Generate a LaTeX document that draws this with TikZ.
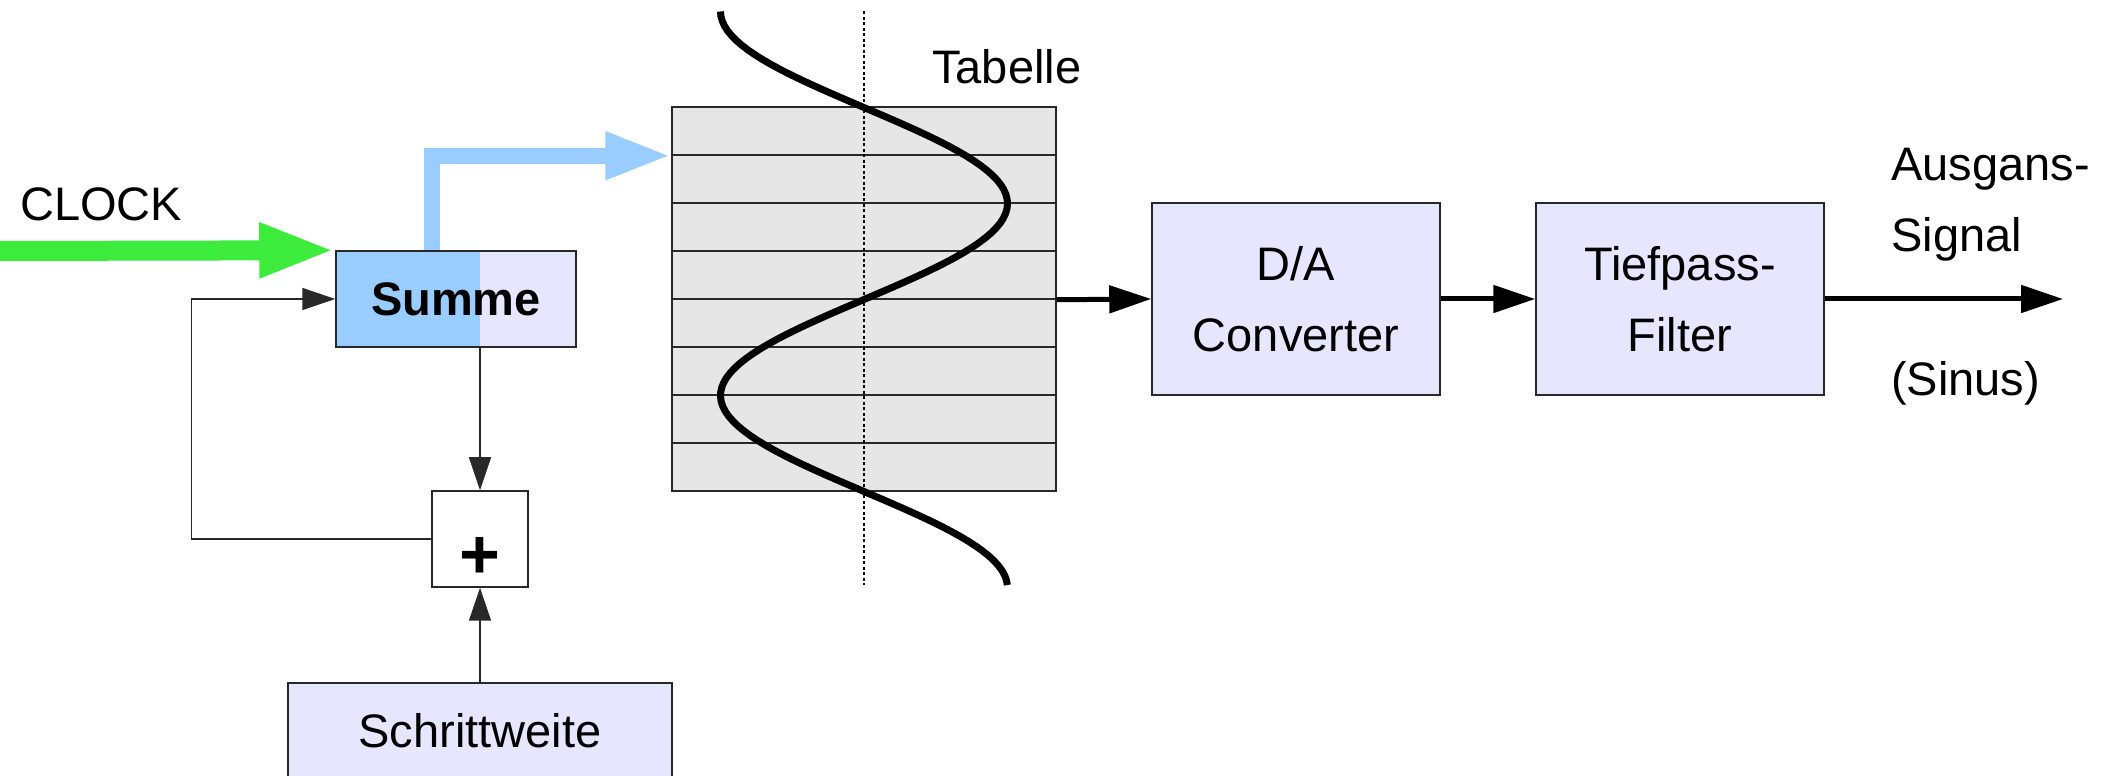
\documentclass[tikz,border=0pt]{standalone}
\usepackage{fontspec}
\setmainfont{Liberation Sans}
\usepackage{tikz}
\usetikzlibrary{arrows.meta}
\definecolor{boxfill}{RGB}{230,230,255}
\definecolor{sumblue}{RGB}{153,204,255}
\definecolor{clockgreen}{RGB}{61,235,61}
\definecolor{tablegray}{RGB}{230,230,230}
\definecolor{edgegray}{RGB}{40,40,40}

\begin{document}
\begin{tikzpicture}[x=1bp,y=1bp,>={Triangle[length=33bp,width=22bp]},line join=miter,
  font=\fontsize{47bp}{71bp}\selectfont,
  block/.style={draw=edgegray,line width=1.5bp,fill=boxfill,inner sep=0pt},
  tablerow/.style={draw=edgegray,line width=1.5bp,fill=tablegray,minimum width=384bp,minimum height=48bp,inner sep=0pt},
  wire/.style={edgegray,line width=1.5bp},
  signal/.style={black,line width=5bp,-{Triangle[length=42bp,width=27bp]}},
  ]
\useasboundingbox (0bp,0bp) rectangle (2101bp,776bp);
%%
\node (clock) at (20bp,572bp) [anchor=west,inner sep=0pt] {CLOCK};
  \node (summe) at (456bp,477bp) [block,minimum width=240bp,minimum height=96bp,font=\fontsize{47bp}{71bp}\selectfont\bfseries,
    path picture={\fill[sumblue] (path picture bounding box.south west) rectangle ([xshift=144bp]path picture bounding box.north west);}] {Summe};
  \node (plus) at (480bp,237bp) [draw=edgegray,line width=1.5bp,fill=white,minimum size=96bp,inner sep=0pt,text height=80bp,text depth=0pt,font=\fontsize{70bp}{70bp}\selectfont\bfseries] {+};
  \node (schritt) at (480bp,45bp) [block,minimum width=384bp,minimum height=96bp] {Schrittweite};
%
  \node (row1) at (864bp,645bp) [tablerow] {};
  \node (row2) at (864bp,597bp) [tablerow] {};
  \node (row3) at (864bp,549bp) [tablerow] {};
  \node (row4) at (864bp,501bp) [tablerow] {};
  \node (row5) at (864bp,453bp) [tablerow] {};
  \node (row6) at (864bp,405bp) [tablerow] {};
  \node (row7) at (864bp,357bp) [tablerow] {};
  \node (row8) at (864bp,309bp) [tablerow] {};
  \draw [black,line width=1.2bp,dash pattern=on 3bp off 2.5bp] (864bp,764.5bp) -- (864bp,191bp);
  \draw [black,line width=7bp] plot [domain=11.5:585,samples=120,variable=\t] ({864-143.5*cos((\t-11.5)/384*360)},{776-\t});
  \node (tabelle) at (932bp,709bp) [anchor=west,inner sep=0pt] {Tabelle};
%
  \node (da) at (1296bp,477bp) [block,minimum width=288bp,minimum height=192bp,align=center] {D/A\\Converter};
  \node (tp) at (1680bp,477bp) [block,minimum width=288bp,minimum height=192bp,align=center] {Tiefpass-\\Filter};
  \node (ausgang) at (1891bp,571bp) [anchor=west,inner sep=0pt,align=left] {Ausgans-\\Signal};
  \node (sinus) at (1891bp,393bp) [anchor=west,inner sep=0pt] {(Sinus)};
  \coordinate (clockin) at (0bp,525bp);
  \coordinate (out) at (2063bp,477bp);
%
  \draw [clockgreen,line width=20bp,-{Triangle[length=76bp,width=50bp]}] (clockin) -- (summe.north west);
  \draw [sumblue,line width=16bp,-{Triangle[length=66bp,width=44bp]}] ([xshift=-24bp]summe.north) |- (row1.south west);
  \draw [wire,->] (plus.west) -- ++(-240bp,0) |- (summe.west);
  \draw [wire,->] (summe.south -| plus.north) -- (plus.north);
  \draw [wire,->] (schritt.north) -- (plus.south);
  \draw [signal] (row4.south east) -- (da.west);
  \draw [signal] (da.east) -- (tp.west);
  \draw [signal] (tp.east) -- (out);
%
\end{tikzpicture}
\end{document}
